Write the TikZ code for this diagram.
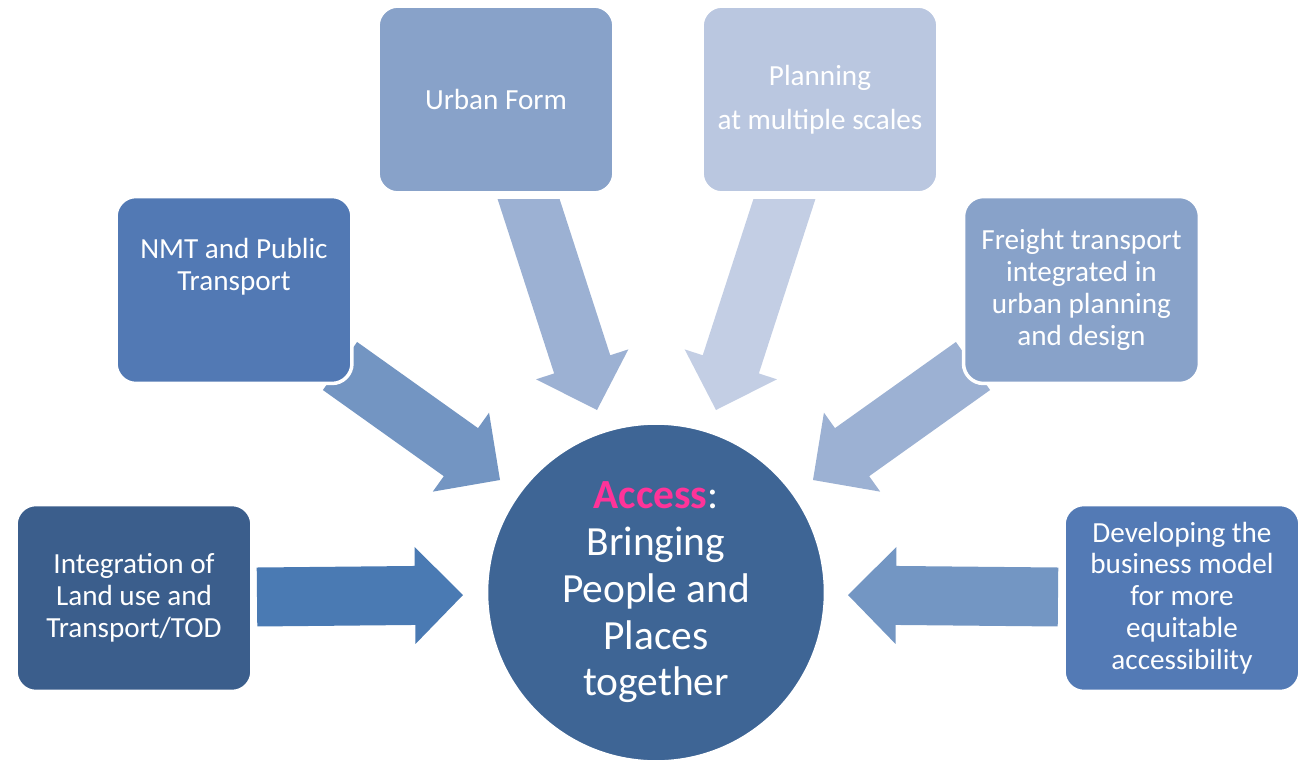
\documentclass[tikz,border=0pt]{standalone}
\usepackage{fontspec}
\setmainfont{Carlito}
\usetikzlibrary{calc}
\definecolor{cint}{HTML}{3B5E8C}
\definecolor{cnmt}{HTML}{5279B4}
\definecolor{curban}{HTML}{88A2C9}
\definecolor{cplan}{HTML}{BAC7E0}
\definecolor{cfreight}{HTML}{88A2C9}
\definecolor{cdev}{HTML}{537AB5}
\definecolor{ccirc}{HTML}{3E6595}
\definecolor{aleft}{HTML}{4A7AB3}
\definecolor{anmt}{HTML}{7395C2}
\definecolor{aurban}{HTML}{9CB1D3}
\definecolor{aplan}{HTML}{C3CEE4}
\definecolor{afreight}{HTML}{9CB1D3}
\definecolor{aright}{HTML}{7396C3}
\definecolor{accesspink}{HTML}{FF3399}
\newcommand{\blockarrow}[4]{%
  \coordinate (#4) at ($(#3)!0.96cm!(#2)$);
  \fill[#1] ($(#2)!0.59cm!90:(#3)$) -- ($(#4)!0.59cm!90:(#3)$) -- ($(#4)!0.97cm!90:(#3)$)
    -- (#3) -- ($(#4)!0.97cm!-90:(#3)$) -- ($(#4)!0.59cm!-90:(#3)$) -- ($(#2)!0.59cm!-90:(#3)$) -- cycle;
}
\begin{document}
\begin{tikzpicture}[x=0.02cm,y=-0.02cm,
  box/.style={rectangle, rounded corners=0.4cm, minimum width=4.72cm, minimum height=3.74cm,
    draw=white, line width=2pt, text=white, align=center, inner sep=0pt,
    font=\fontsize{16.6}{18.1}\selectfont},
  boxtext/.style={text=white, align=center, inner sep=0pt, font=\fontsize{16.6}{18.1}\selectfont},
  circ/.style={circle, minimum size=6.78cm, fill=ccirc, draw=white, line width=2pt, text=white,
    align=center, inner sep=0pt, font=\fontsize{23.6}{26.6}\selectfont}
]
\useasboundingbox (0,0) rectangle (1303,761);

% arrow end points
\coordinate (lt) at (257,597);  \coordinate (lh) at (463,595);
\coordinate (rt) at (1058,597); \coordinate (rh) at (848,595);
\coordinate (nt) at (340,366);  \coordinate (nh) at (500,480);
\coordinate (ft) at (973,366);  \coordinate (fh) at (813,480);
\coordinate (ut) at (520.8,175); \coordinate (uh) at (597,410);
\coordinate (pt) at (792.2,175); \coordinate (ph) at (716,410);

\blockarrow{aleft}{lt}{lh}{lb}
\blockarrow{aright}{rt}{rh}{rb}
\blockarrow{anmt}{nt}{nh}{nb}
\blockarrow{afreight}{ft}{fh}{fb}
\begin{scope}
  \clip (0,199) rectangle (1303,761);
  \blockarrow{aurban}{ut}{uh}{ub}
  \blockarrow{aplan}{pt}{ph}{pb}
\end{scope}

% boxes
\node[box, fill=cint] (int) at (134,598) {Integration of\\Land use and\\Transport/TOD};
\node[box, fill=cnmt] (nmt) at (234,290) {};
\node[boxtext] (nmttext) at (234,267) {NMT and Public\\Transport};
\node[box, fill=curban] (urban) at (496,99.5) {Urban Form};
\node[box, fill=cplan] (plan) at (820,99.5) {Planning\\[0.24cm]at multiple scales};
\node[box, fill=cfreight] (freight) at (1081.5,290) {Freight transport\\integrated in\\urban planning\\and design};
\node[box, fill=cdev] (dev) at (1182,598) {Developing the\\business model\\for more\\equitable\\accessibility};

% centre
\node[circ] (access) at (656,592.5) {\textbf{\color{accesspink}Access}:\\Bringing\\People and\\Places\\together};
\end{tikzpicture}
\end{document}
